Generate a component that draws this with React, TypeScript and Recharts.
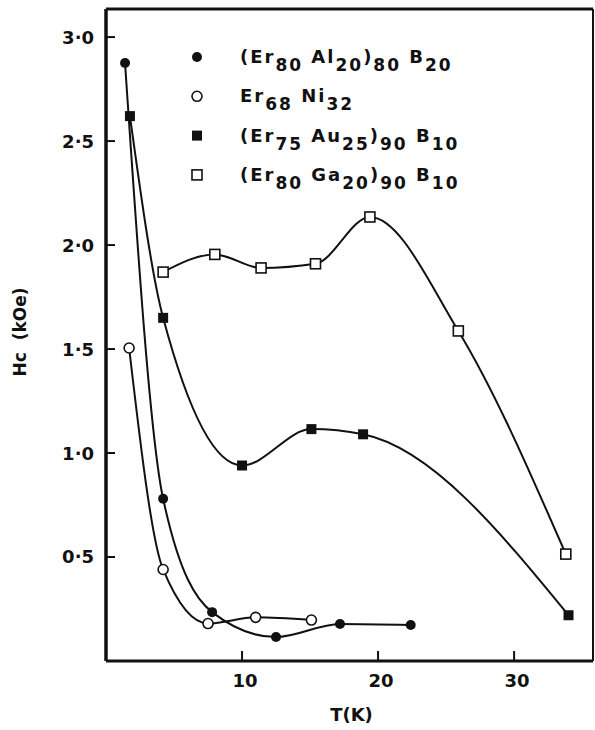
import React from 'react';
import { ComposedChart, Line, XAxis, YAxis, ReferenceLine } from 'recharts';

// T (K) and Hc (kOe)
const ALB_T = [1.4, 4.2, 7.8, 12.5, 17.2, 22.4];
const ALB_HC = [2.875, 0.78, 0.235, 0.115, 0.178, 0.173];
const NI_T = [1.7, 4.2, 7.5, 11.0, 15.1];
const NI_HC = [1.505, 0.44, 0.18, 0.21, 0.197];
const AUB_T = [1.76, 4.2, 10.0, 15.1, 18.9, 34.0];
const AUB_HC = [2.62, 1.65, 0.94, 1.115, 1.09, 0.22];
const GAB_T = [4.2, 8.0, 11.4, 15.4, 19.4, 25.9, 33.8];
const GAB_HC = [1.87, 1.955, 1.89, 1.91, 2.135, 1.587, 0.514];

// "_nn" marks a subscript
const LEGEND_LABELS = ['(Er_80 Al_20)_80 B_20', 'Er_68 Ni_32', '(Er_75 Au_25)_90 B_10', '(Er_80 Ga_20)_90 B_10'];
const MARKERS = ['circleFilled', 'circleOpen', 'squareFilled', 'squareOpen'];

const X_TICKS = [10, 20, 30];
const Y_TICKS = [0.5, 1, 1.5, 2, 2.5, 3];
const Y_TICK_LABELS = ['0·5', '1·0', '1·5', '2·0', '2·5', '3·0'];
const X_MAX = 35.8;
const Y_MAX = 3.135;

const INK = '#111';
const FONT = '"DejaVu Sans", sans-serif';

const toRows = (ts: number[], hs: number[]) => ts.map((t, i) => ({ t, hc: hs[i] }));

const SERIES = [
    { data: toRows(ALB_T, ALB_HC), name: LEGEND_LABELS[0], marker: MARKERS[0] },
    { data: toRows(NI_T, NI_HC), name: LEGEND_LABELS[1], marker: MARKERS[1] },
    { data: toRows(AUB_T, AUB_HC), name: LEGEND_LABELS[2], marker: MARKERS[2] },
    { data: toRows(GAB_T, GAB_HC), name: LEGEND_LABELS[3], marker: MARKERS[3] },
];

const Marker = ({ kind, x, y }: { kind: string; x: number; y: number }) => {
    if (kind === 'circleFilled') return <circle cx={x} cy={y} r={5} fill={INK} />;
    if (kind === 'circleOpen') return <circle cx={x} cy={y} r={5} fill="#fff" stroke={INK} strokeWidth={1.6} />;
    if (kind === 'squareFilled') return <rect x={x - 5} y={y - 5} width={10} height={10} fill={INK} />;
    return <rect x={x - 5} y={y - 5} width={10} height={10} fill="#fff" stroke={INK} strokeWidth={1.6} />;
};

const dotFor = (kind: string) => (props: any) => (
    <Marker key={`${kind}-${props.index}`} kind={kind} x={props.cx} y={props.cy} />
);

const YTick = ({ x, y, payload }: any) => {
    const idx = Y_TICKS.indexOf(payload.value);
    return (
        <g>
            <line x1={x + 12} x2={x + 21} y1={y} y2={y} stroke={INK} strokeWidth={2} />
            <text x={x} y={y} dy="0.36em" textAnchor="end" fontFamily={FONT} fontWeight="bold" fontSize={18} fill={INK}>
                {Y_TICK_LABELS[idx]}
            </text>
        </g>
    );
};

const XTick = ({ x, y, payload }: any) => (
    <g>
        <line x1={x} x2={x} y1={y - 12} y2={y - 22} stroke={INK} strokeWidth={2} />
        <text x={x + 3} y={y} dy="0.78em" textAnchor="middle" fontFamily={FONT} fontWeight="bold" fontSize={18} fill={INK}>
            {payload.value}
        </text>
    </g>
);

const Formula = ({ label, x, y }: { label: string; x: number; y: number }) => {
    const parts = label.split(/_(\d+)/);
    return (
        <text x={x} y={y} fontFamily={FONT} fontWeight="bold" fontSize={18} fill={INK} letterSpacing={2} style={{ whiteSpace: 'pre' }}>
            {parts.map((p, i) =>
                i % 2 === 1 ? (
                    <tspan key={i} dy={8} fontSize={17}>{p}</tspan>
                ) : (
                    <tspan key={i} dy={i === 0 ? 0 : -8}>{p}</tspan>
                )
            )}
        </text>
    );
};

const LegendBox = () => (
    <svg width={300} height={160} style={{ position: 'absolute', left: 185, top: 40 }}>
        {LEGEND_LABELS.map((label, i) => (
            <g key={label}>
                <Marker kind={MARKERS[i]} x={12} y={17 + i * 39.3} />
                <Formula label={label} x={55} y={23 + i * 39.3} />
            </g>
        ))}
    </svg>
);

export default function App() {
    return (
        <div style={{ position: 'absolute', left: 0, top: 0, width: 595, height: 730, background: '#fff' }}>
            <ComposedChart width={595} height={730} margin={{ top: 9, right: 2, left: 0, bottom: 0 }}>
                <XAxis
                    dataKey="t"
                    type="number"
                    domain={[0, X_MAX]}
                    ticks={X_TICKS}
                    allowDataOverflow
                    height={69}
                    tickLine={false}
                    tickSize={12}
                    tickMargin={0}
                    tick={<XTick />}
                    axisLine={{ stroke: INK, strokeWidth: 3 }}
                    label={{
                        content: ({ viewBox }: any) => (
                            <text x={viewBox.x + viewBox.width / 2 + 2} y={viewBox.y + 54} dy="0.36em" textAnchor="middle"
                                fontFamily={FONT} fontWeight="bold" fontSize={18} fill={INK}>T(K)</text>
                        ),
                    }}
                />
                <YAxis
                    type="number"
                    domain={[0, Y_MAX]}
                    ticks={Y_TICKS}
                    allowDataOverflow
                    width={106}
                    tickLine={false}
                    tickSize={12}
                    tickMargin={0}
                    tick={<YTick />}
                    axisLine={{ stroke: INK, strokeWidth: 3.5 }}
                    label={{
                        content: ({ viewBox }: any) => {
                            const cx = 20;
                            const cy = viewBox.y + viewBox.height / 2 - 3;
                            return (
                                <text x={cx} y={cy} dy="0.36em" textAnchor="middle" transform={`rotate(-90 ${cx} ${cy})`}
                                    fontFamily={FONT} fontWeight="bold" fontSize={17} fill={INK} style={{ whiteSpace: 'pre' }}>
                                    {'Hc  (kOe)'}
                                </text>
                            );
                        },
                    }}
                />
                <ReferenceLine y={Y_MAX} stroke={INK} strokeWidth={3} />
                <ReferenceLine x={X_MAX} stroke={INK} strokeWidth={2} />
                {SERIES.map((s) => (
                    <Line
                        key={s.name}
                        data={s.data}
                        dataKey="hc"
                        name={s.name}
                        type="monotone"
                        stroke={INK}
                        strokeWidth={2}
                        dot={dotFor(s.marker)}
                        activeDot={false}
                        isAnimationActive={false}
                    />
                ))}
            </ComposedChart>
            <LegendBox />
        </div>
    );
}
